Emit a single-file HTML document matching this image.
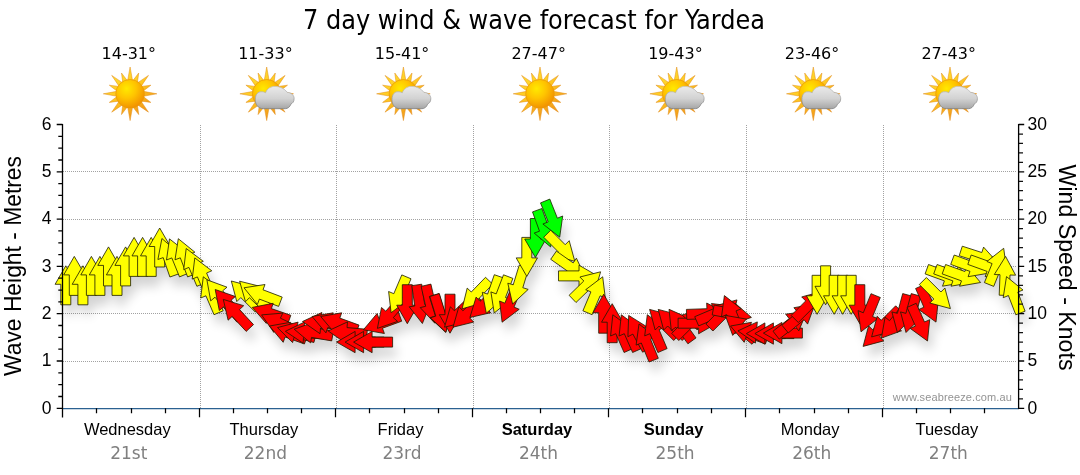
<!DOCTYPE html>
<html><head><meta charset="utf-8"><title>7 day wind &amp; wave forecast for Yardea</title>
<style>html,body{margin:0;padding:0;background:#fff}svg{display:block}.ar{font-family:"Liberation Sans",Arial,sans-serif}.th{font-family:"DejaVu Sans Condensed","DejaVu Sans","Liberation Sans",sans-serif}.vd{font-family:"DejaVu Sans","Liberation Sans",sans-serif}</style></head><body>
<svg width="1080" height="475" viewBox="0 0 1080 475">
<defs>
<radialGradient id="sunG" cx="0.38" cy="0.32" r="0.75"><stop offset="0" stop-color="#ffe900"/><stop offset="0.45" stop-color="#ffc400"/><stop offset="1" stop-color="#f08a00"/></radialGradient>
<linearGradient id="rayG" x1="0" y1="0" x2="0.6" y2="1"><stop offset="0" stop-color="#ffe838"/><stop offset="0.5" stop-color="#ffca22"/><stop offset="1" stop-color="#f09418"/></linearGradient>
<linearGradient id="cldG" x1="0" y1="0" x2="0" y2="1"><stop offset="0" stop-color="#eaeaea"/><stop offset="0.55" stop-color="#d2d2d2"/><stop offset="1" stop-color="#a6a6a6"/></linearGradient>
<linearGradient id="cldS" x1="0" y1="0" x2="0" y2="1"><stop offset="0" stop-color="#c4c4c4"/><stop offset="1" stop-color="#7e7e7e"/></linearGradient>
<filter id="sh" x="-5%" y="-20%" width="110%" height="150%"><feGaussianBlur stdDeviation="5.5"/></filter>
<filter id="cs" x="-20%" y="-20%" width="140%" height="150%"><feGaussianBlur stdDeviation="0.8"/></filter>

<g id="sun"><path d="M-2.46,-13.27 L0.00,-26.80 L2.46,-13.27 Z M2.81,-13.20 L8.61,-20.79 L7.35,-11.32 Z M7.65,-11.13 L18.38,-18.38 L11.13,-7.65 Z M11.32,-7.35 L20.79,-8.61 L13.20,-2.81 Z M13.27,-2.46 L26.80,-0.00 L13.27,2.46 Z M13.20,2.81 L20.79,8.61 L11.32,7.35 Z M11.13,7.65 L18.38,18.38 L7.65,11.13 Z M7.35,11.32 L8.61,20.79 L2.81,13.20 Z M2.46,13.27 L0.00,26.80 L-2.46,13.27 Z M-2.81,13.20 L-8.61,20.79 L-7.35,11.32 Z M-7.65,11.13 L-18.38,18.38 L-11.13,7.65 Z M-11.32,7.35 L-20.79,8.61 L-13.20,2.81 Z M-13.27,2.46 L-26.80,0.00 L-13.27,-2.46 Z M-13.20,-2.81 L-20.79,-8.61 L-11.32,-7.35 Z M-11.13,-7.65 L-18.38,-18.38 L-7.65,-11.13 Z M-7.35,-11.32 L-8.61,-20.79 L-2.81,-13.20 Z" fill="url(#rayG)" stroke="#e08a18" stroke-width="0.5"/><circle r="14.3" fill="url(#sunG)" stroke="#e8980c" stroke-width="0.7"/></g>
<g id="cloud"><path d="M-3.5,14.9 C-8.5,14.9 -11.6,10.5 -11.4,5.5 C-11.4,0.5 -8.5,-2.2 -5.5,-2.0 C-3.8,-2.2 -2.5,-1.8 -1.2,-1.0 C0.5,-5.5 4.5,-7.6 8.5,-7.4 C13.5,-7.4 18,-5 20.5,-1.5 C24.5,-1.2 27.6,1.5 27.4,5 C27.4,8 25.8,9.5 24.2,10.2 C23.5,13 21,14.9 18.6,14.9 Z" fill="url(#cldG)" stroke="url(#cldS)" stroke-width="0.8"/></g>
</defs>
<rect width="1080" height="475" fill="#fff"/>
<text class="th" x="534" y="28.8" font-size="26.5" text-anchor="middle" fill="#000" textLength="462" lengthAdjust="spacingAndGlyphs">7 day wind &amp; wave forecast for Yardea</text>
<text class="vd" x="128.8" y="59" font-size="16.5" text-anchor="middle" fill="#000" textLength="54.5" lengthAdjust="spacingAndGlyphs">14-31°</text>
<use href="#sun" x="130.1" y="93.8"/>
<text class="vd" x="265.4" y="59" font-size="16.5" text-anchor="middle" fill="#000" textLength="54.5" lengthAdjust="spacingAndGlyphs">11-33°</text>
<use href="#sun" x="266.7" y="93.8"/>
<use href="#cloud" x="266.7" y="93.8"/>
<text class="vd" x="402.1" y="59" font-size="16.5" text-anchor="middle" fill="#000" textLength="54.5" lengthAdjust="spacingAndGlyphs">15-41°</text>
<use href="#sun" x="403.4" y="93.8"/>
<use href="#cloud" x="403.4" y="93.8"/>
<text class="vd" x="538.7" y="59" font-size="16.5" text-anchor="middle" fill="#000" textLength="54.5" lengthAdjust="spacingAndGlyphs">27-47°</text>
<use href="#sun" x="540.0" y="93.8"/>
<text class="vd" x="675.4" y="59" font-size="16.5" text-anchor="middle" fill="#000" textLength="54.5" lengthAdjust="spacingAndGlyphs">19-43°</text>
<use href="#sun" x="676.7" y="93.8"/>
<use href="#cloud" x="676.7" y="93.8"/>
<text class="vd" x="812.0" y="59" font-size="16.5" text-anchor="middle" fill="#000" textLength="54.5" lengthAdjust="spacingAndGlyphs">23-46°</text>
<use href="#sun" x="813.3" y="93.8"/>
<use href="#cloud" x="813.3" y="93.8"/>
<text class="vd" x="948.7" y="59" font-size="16.5" text-anchor="middle" fill="#000" textLength="54.5" lengthAdjust="spacingAndGlyphs">27-43°</text>
<use href="#sun" x="950.0" y="93.8"/>
<use href="#cloud" x="950.0" y="93.8"/>
<path d="M200.5,125.0 V408.0 M336.5,125.0 V408.0 M473.5,125.0 V408.0 M609.5,125.0 V408.0 M746.5,125.0 V408.0 M883.5,125.0 V408.0 M63.0,361.5 H1017.0 M63.0,313.5 H1017.0 M63.0,266.5 H1017.0 M63.0,219.5 H1017.0 M63.0,171.5 H1017.0" stroke="#a2a2a2" stroke-width="1" stroke-dasharray="1,1" fill="none" shape-rendering="crispEdges"/>
<text class="ar" x="1012" y="401" font-size="11" text-anchor="end" fill="#939393" letter-spacing="0.12">www.seabreeze.com.au</text>
<g filter="url(#sh)" fill="#000" opacity="0.17"><polygon points="69.8,275.8 80.5,294.3 74.8,294.3 74.8,314.8 64.8,314.8 64.8,294.3 59.1,294.3"/><polygon points="78.3,266.4 89.0,284.9 83.3,284.9 83.3,305.4 73.3,305.4 73.3,284.9 67.7,284.9"/><polygon points="86.9,275.8 97.5,294.3 91.9,294.3 91.9,314.8 81.9,314.8 81.9,294.3 76.2,294.3"/><polygon points="95.4,266.4 106.1,284.9 100.4,284.9 100.4,305.4 90.4,305.4 90.4,284.9 84.8,284.9"/><polygon points="103.9,266.4 114.6,284.9 108.9,284.9 108.9,305.4 98.9,305.4 98.9,284.9 93.3,284.9"/><polygon points="112.5,256.9 123.1,275.4 117.5,275.4 117.5,295.9 107.5,295.9 107.5,275.4 101.8,275.4"/><polygon points="121.0,266.4 131.7,284.9 126.0,284.9 126.0,305.4 116.0,305.4 116.0,284.9 110.4,284.9"/><polygon points="129.6,256.9 140.2,275.4 134.6,275.4 134.6,295.9 124.6,295.9 124.6,275.4 118.9,275.4"/><polygon points="138.1,247.4 148.8,265.9 143.1,265.9 143.1,286.4 133.1,286.4 133.1,265.9 127.4,265.9"/><polygon points="146.6,247.4 157.3,265.9 151.6,265.9 151.6,286.4 141.6,286.4 141.6,265.9 136.0,265.9"/><polygon points="155.2,247.4 165.8,265.9 160.2,265.9 160.2,286.4 150.2,286.4 150.2,265.9 144.5,265.9"/><polygon points="163.7,238.0 174.4,256.5 168.7,256.5 168.7,277.0 158.7,277.0 158.7,256.5 153.1,256.5"/><polygon points="165.9,248.5 182.0,262.5 176.7,264.4 183.3,283.7 173.9,287.0 167.2,267.6 161.9,269.5"/><polygon points="173.5,248.9 190.3,262.0 185.0,264.1 192.7,283.1 183.5,286.9 175.8,267.9 170.5,270.0"/><polygon points="182.3,248.7 198.9,262.2 193.6,264.2 201.0,283.4 191.6,286.9 184.3,267.8 179.0,269.8"/><polygon points="190.2,258.5 207.3,271.3 202.1,273.5 210.1,292.4 200.9,296.3 192.9,277.4 187.7,279.6"/><polygon points="198.8,267.9 215.8,280.8 210.6,283.0 218.6,301.9 209.4,305.8 201.4,286.9 196.2,289.1"/><polygon points="207.3,286.8 224.4,299.7 219.1,301.9 227.2,320.8 218.0,324.7 209.9,305.8 204.7,308.0"/><polygon points="210.9,289.8 231.0,297.2 226.7,300.8 239.8,316.5 232.2,322.9 219.0,307.2 214.7,310.9"/><polygon points="219.2,299.5 239.4,306.5 235.1,310.2 248.6,325.7 241.0,332.2 227.6,316.8 223.3,320.5"/><polygon points="227.3,309.4 247.7,315.7 243.5,319.6 257.5,334.6 250.2,341.4 236.2,326.4 232.1,330.2"/><polygon points="235.3,291.0 255.9,296.5 251.9,300.5 266.4,315.0 259.3,322.1 244.8,307.6 240.8,311.6"/><polygon points="243.6,291.2 264.3,296.4 260.4,300.5 275.1,314.7 268.2,321.9 253.4,307.7 249.5,311.7"/><polygon points="248.0,297.8 269.0,294.5 267.0,299.8 286.2,307.1 282.6,316.4 263.4,309.1 261.4,314.4"/><polygon points="256.3,317.4 277.2,313.3 275.4,318.6 294.8,325.3 291.5,334.8 272.1,328.1 270.3,333.4"/><polygon points="265.6,324.9 286.8,323.1 284.4,328.2 303.0,336.9 298.8,345.9 280.2,337.3 277.8,342.4"/><polygon points="273.5,336.0 294.5,332.3 292.5,337.6 311.8,344.6 308.4,354.0 289.1,347.0 287.2,352.3"/><polygon points="281.5,337.6 302.1,332.1 300.6,337.5 320.4,342.8 317.9,352.5 298.1,347.2 296.6,352.6"/><polygon points="289.4,341.3 308.6,331.9 308.2,337.6 328.7,339.0 328.0,349.0 307.5,347.5 307.1,353.2"/><polygon points="298.2,339.2 318.3,332.0 317.3,337.5 337.5,341.1 335.7,350.9 315.5,347.4 314.6,352.9"/><polygon points="306.5,331.5 325.9,322.5 325.4,328.1 345.8,329.9 344.9,339.8 324.5,338.1 324.0,343.7"/><polygon points="316.1,326.5 337.2,322.8 335.2,328.1 354.5,335.1 351.1,344.5 331.8,337.5 329.9,342.8"/><polygon points="324.7,326.5 345.7,322.8 343.8,328.1 363.0,335.1 359.6,344.5 340.4,337.5 338.4,342.8"/><polygon points="332.1,340.9 351.5,331.9 351.0,337.6 371.4,339.3 370.5,349.3 350.1,347.5 349.6,353.1"/><polygon points="340.6,352.1 359.1,341.4 359.1,347.1 379.6,347.1 379.6,357.1 359.1,357.1 359.1,362.7"/><polygon points="349.1,352.1 367.6,341.4 367.6,347.1 388.1,347.1 388.1,357.1 367.6,357.1 367.6,362.7"/><polygon points="357.6,352.1 376.1,341.4 376.1,347.1 396.6,347.1 396.6,357.1 376.1,357.1 376.1,362.7"/><polygon points="367.4,339.8 381.1,323.5 383.0,328.8 402.3,321.8 405.7,331.2 386.5,338.2 388.4,343.5"/><polygon points="381.4,338.4 385.5,317.5 389.8,321.2 403.2,305.7 410.8,312.3 397.3,327.7 401.6,331.4"/><polygon points="395.1,322.7 392.6,301.5 397.8,303.7 405.8,284.9 415.0,288.8 407.0,307.7 412.2,309.9"/><polygon points="411.3,333.7 400.7,315.2 406.3,315.2 406.3,294.7 416.3,294.7 416.3,315.2 421.9,315.2"/><polygon points="426.4,333.5 413.2,316.8 418.8,316.0 415.8,295.7 425.7,294.2 428.7,314.5 434.3,313.7"/><polygon points="438.8,333.2 424.2,317.6 429.7,316.3 425.1,296.4 434.9,294.1 439.5,314.1 445.0,312.8"/><polygon points="449.6,342.3 434.0,327.8 439.4,326.1 433.4,306.5 443.0,303.6 449.0,323.2 454.4,321.5"/><polygon points="450.0,342.3 434.4,327.8 439.8,326.1 433.8,306.5 443.3,303.6 449.3,323.2 454.7,321.5"/><polygon points="454.0,343.2 443.3,324.7 449.0,324.7 449.0,304.2 459.0,304.2 459.0,324.7 464.6,324.7"/><polygon points="448.5,337.2 454.4,316.7 458.3,320.8 473.1,306.6 480.0,313.8 465.3,328.0 469.2,332.1"/><polygon points="457.0,337.2 462.9,316.7 466.9,320.8 481.6,306.6 488.6,313.8 473.8,328.0 477.7,332.1"/><polygon points="466.1,318.8 471.2,298.1 475.3,302.0 489.5,287.3 496.7,294.2 482.5,309.0 486.6,312.9"/><polygon points="473.9,327.5 480.1,307.1 484.0,311.3 499.0,297.3 505.8,304.6 490.8,318.6 494.7,322.7"/><polygon points="490.3,323.2 486.3,302.3 491.6,304.1 498.3,284.7 507.8,288.0 501.1,307.4 506.4,309.2"/><polygon points="498.2,323.0 494.9,301.9 500.2,303.9 507.5,284.8 516.9,288.4 509.5,307.5 514.8,309.5"/><polygon points="506.1,332.2 503.6,311.0 508.8,313.2 516.8,294.3 526.0,298.2 518.0,317.1 523.2,319.3"/><polygon points="516.6,314.0 511.8,293.2 517.2,294.8 523.2,275.2 532.8,278.1 526.8,297.7 532.2,299.4"/><polygon points="530.8,286.4 520.2,267.9 525.8,267.9 525.8,247.4 535.8,247.4 535.8,267.9 541.5,267.9"/><polygon points="539.4,267.5 528.7,249.0 534.4,249.0 534.4,228.5 544.4,228.5 544.4,249.0 550.0,249.0"/><polygon points="554.6,256.9 538.2,243.1 543.5,241.2 536.5,221.9 545.9,218.5 552.9,237.8 558.2,235.9"/><polygon points="563.7,247.2 546.9,234.0 552.2,231.9 544.5,212.9 553.8,209.1 561.4,228.2 566.7,226.0"/><polygon points="578.8,271.3 558.2,265.7 562.1,261.7 547.7,247.2 554.7,240.2 569.2,254.7 573.2,250.7"/><polygon points="589.5,287.6 568.2,285.7 571.5,281.1 554.7,269.3 560.4,261.1 577.2,272.9 580.4,268.2"/><polygon points="601.5,285.9 583.0,296.5 583.0,290.9 562.5,290.9 562.5,280.9 583.0,280.9 583.0,275.2"/><polygon points="604.6,281.8 598.7,302.3 594.8,298.2 580.0,312.5 573.1,305.3 587.8,291.0 583.9,287.0"/><polygon points="606.7,286.8 609.3,308.0 604.1,305.8 596.1,324.7 586.9,320.8 594.9,301.9 589.7,299.7"/><polygon points="607.7,304.2 618.3,322.7 612.7,322.7 612.7,343.2 602.7,343.2 602.7,322.7 597.0,322.7"/><polygon points="616.2,313.7 626.8,332.2 621.2,332.2 621.2,352.7 611.2,352.7 611.2,332.2 605.5,332.2"/><polygon points="616.8,324.8 634.1,337.4 628.9,339.7 637.2,358.4 628.1,362.5 619.8,343.7 614.6,346.0"/><polygon points="625.3,324.8 642.6,337.4 637.4,339.7 645.8,358.4 636.6,362.5 628.3,343.7 623.1,346.0"/><polygon points="632.7,325.4 650.7,336.7 645.8,339.4 655.4,357.5 646.6,362.2 636.9,344.1 631.9,346.7"/><polygon points="643.0,334.0 659.8,347.2 654.6,349.3 662.3,368.3 653.0,372.0 645.3,353.0 640.1,355.1"/><polygon points="651.3,324.7 668.3,337.5 663.1,339.7 671.1,358.6 661.9,362.5 653.9,343.7 648.7,345.9"/><polygon points="653.6,319.4 674.2,324.9 670.3,328.9 684.7,343.4 677.7,350.5 663.2,336.0 659.2,340.0"/><polygon points="662.2,319.4 682.8,324.9 678.8,328.9 693.3,343.4 686.2,350.5 671.7,336.0 667.7,340.0"/><polygon points="673.0,319.3 692.5,328.0 688.0,331.3 700.0,347.9 691.9,353.8 679.9,337.2 675.3,340.5"/><polygon points="706.8,319.4 701.3,340.0 697.3,336.0 682.8,350.5 675.7,343.4 690.2,328.9 686.2,324.9"/><polygon points="721.1,333.2 702.6,343.8 702.6,338.2 682.1,338.2 682.1,328.2 702.6,328.2 702.6,322.5"/><polygon points="729.6,323.0 711.5,334.3 711.3,328.7 690.8,329.4 690.4,319.4 710.9,318.7 710.7,313.0"/><polygon points="736.6,316.1 723.7,333.1 721.5,327.9 702.7,335.9 698.7,326.7 717.6,318.7 715.4,313.5"/><polygon points="741.0,309.9 735.4,330.5 731.4,326.5 716.9,341.0 709.9,334.0 724.4,319.5 720.4,315.5"/><polygon points="755.4,327.4 735.2,334.3 736.3,328.8 716.2,324.9 718.1,315.1 738.2,319.0 739.3,313.4"/><polygon points="728.4,305.6 745.2,318.8 740.0,320.9 747.7,339.9 738.4,343.7 730.7,324.6 725.5,326.8"/><polygon points="729.3,325.4 750.3,329.1 746.7,333.4 762.4,346.6 756.0,354.3 740.3,341.1 736.7,345.4"/><polygon points="734.5,336.0 755.5,332.3 753.6,337.6 772.8,344.6 769.4,354.0 750.2,347.0 748.2,352.3"/><polygon points="741.9,340.9 761.3,331.9 760.8,337.6 781.2,339.3 780.3,349.3 759.9,347.5 759.4,353.1"/><polygon points="750.4,343.6 768.9,332.9 768.9,338.6 789.4,338.6 789.4,348.6 768.9,348.6 768.9,354.2"/><polygon points="758.9,343.6 777.4,332.9 777.4,338.6 797.9,338.6 797.9,348.6 777.4,348.6 777.4,354.2"/><polygon points="767.4,343.1 785.9,332.4 785.9,338.1 806.4,338.1 806.4,348.1 785.9,348.1 785.9,353.7"/><polygon points="810.9,321.2 802.8,340.9 799.4,336.5 783.2,349.1 777.0,341.2 793.2,328.6 789.7,324.2"/><polygon points="819.0,314.0 811.6,334.1 808.0,329.7 792.3,342.9 785.9,335.2 801.6,322.1 797.9,317.7"/><polygon points="826.4,301.4 820.8,322.0 816.8,318.0 802.3,332.5 795.2,325.4 809.7,310.9 805.7,306.9"/><polygon points="821.1,324.3 810.4,305.8 816.1,305.8 816.1,285.3 826.1,285.3 826.1,305.8 831.7,305.8"/><polygon points="829.6,314.8 819.0,296.3 824.6,296.3 824.6,275.8 834.6,275.8 834.6,296.3 840.3,296.3"/><polygon points="838.2,324.3 827.5,305.8 833.2,305.8 833.2,285.3 843.2,285.3 843.2,305.8 848.8,305.8"/><polygon points="846.7,324.3 836.1,305.8 841.7,305.8 841.7,285.3 851.7,285.3 851.7,305.8 857.4,305.8"/><polygon points="855.2,324.3 844.6,305.8 850.2,305.8 850.2,285.3 860.2,285.3 860.2,305.8 865.9,305.8"/><polygon points="863.8,333.7 853.1,315.2 858.8,315.2 858.8,294.7 868.8,294.7 868.8,315.2 874.4,315.2"/><polygon points="865.0,341.8 862.1,320.6 867.3,322.8 875.0,303.7 884.3,307.5 876.6,326.5 881.8,328.6"/><polygon points="867.1,356.4 872.6,335.8 876.6,339.8 891.1,325.3 898.2,332.4 883.7,346.9 887.7,350.9"/><polygon points="875.6,346.9 881.2,326.3 885.2,330.3 899.7,315.8 906.7,322.9 892.2,337.4 896.2,341.4"/><polygon points="885.4,348.1 889.1,327.1 893.5,330.7 906.6,315.0 914.3,321.4 901.1,337.1 905.5,340.8"/><polygon points="901.4,342.5 895.9,321.9 901.4,323.4 906.7,303.6 916.4,306.2 911.0,326.0 916.5,327.4"/><polygon points="910.0,342.5 904.5,321.9 909.9,323.4 915.2,303.6 924.9,306.2 919.6,326.0 925.0,327.4"/><polygon points="931.5,351.0 914.2,338.4 919.4,336.1 911.1,317.4 920.2,313.3 928.5,332.0 933.7,329.7"/><polygon points="940.0,332.1 922.8,319.5 927.9,317.2 919.6,298.5 928.7,294.4 937.1,313.1 942.2,310.8"/><polygon points="954.4,318.6 933.8,313.0 937.8,309.0 923.3,294.5 930.4,287.5 944.9,302.0 948.9,298.0"/><polygon points="967.5,292.5 946.5,296.2 948.4,290.9 929.1,283.9 932.5,274.5 951.8,281.5 953.7,276.2"/><polygon points="976.0,292.5 955.0,296.2 956.9,290.9 937.7,283.9 941.1,274.5 960.3,281.5 962.3,276.2"/><polygon points="984.6,292.5 963.5,296.2 965.5,290.9 946.2,283.9 949.6,274.5 968.9,281.5 970.8,276.2"/><polygon points="993.1,283.1 972.1,286.7 974.0,281.4 954.7,274.4 958.2,265.0 977.4,272.0 979.4,266.7"/><polygon points="1001.9,273.0 981.0,277.4 982.7,272.0 963.2,265.7 966.3,256.2 985.8,262.5 987.6,257.1"/><polygon points="1010.2,283.1 989.1,286.7 991.1,281.4 971.8,274.4 975.2,265.0 994.5,272.0 996.4,266.7"/><polygon points="1007.7,258.3 1010.6,279.5 1005.4,277.3 997.7,296.4 988.4,292.6 996.1,273.6 990.9,271.5"/><polygon points="1009.6,266.4 1019.6,285.2 1014.0,285.0 1013.2,305.5 1003.2,305.2 1004.0,284.7 998.3,284.5"/><polygon points="1010.5,286.6 1027.0,300.0 1021.8,302.1 1029.1,321.2 1019.8,324.8 1012.4,305.6 1007.2,307.7"/></g>
<g stroke="#1a1a00" stroke-width="0.8" stroke-linejoin="miter"><polygon points="65.8,265.8 76.5,284.3 70.8,284.3 70.8,304.8 60.8,304.8 60.8,284.3 55.1,284.3" fill="#ffff00"/><polygon points="74.3,256.4 85.0,274.9 79.3,274.9 79.3,295.4 69.3,295.4 69.3,274.9 63.7,274.9" fill="#ffff00"/><polygon points="82.9,265.8 93.5,284.3 87.9,284.3 87.9,304.8 77.9,304.8 77.9,284.3 72.2,284.3" fill="#ffff00"/><polygon points="91.4,256.4 102.1,274.9 96.4,274.9 96.4,295.4 86.4,295.4 86.4,274.9 80.8,274.9" fill="#ffff00"/><polygon points="99.9,256.4 110.6,274.9 104.9,274.9 104.9,295.4 94.9,295.4 94.9,274.9 89.3,274.9" fill="#ffff00"/><polygon points="108.5,246.9 119.1,265.4 113.5,265.4 113.5,285.9 103.5,285.9 103.5,265.4 97.8,265.4" fill="#ffff00"/><polygon points="117.0,256.4 127.7,274.9 122.0,274.9 122.0,295.4 112.0,295.4 112.0,274.9 106.4,274.9" fill="#ffff00"/><polygon points="125.6,246.9 136.2,265.4 130.6,265.4 130.6,285.9 120.6,285.9 120.6,265.4 114.9,265.4" fill="#ffff00"/><polygon points="134.1,237.4 144.8,255.9 139.1,255.9 139.1,276.4 129.1,276.4 129.1,255.9 123.4,255.9" fill="#ffff00"/><polygon points="142.6,237.4 153.3,255.9 147.6,255.9 147.6,276.4 137.6,276.4 137.6,255.9 132.0,255.9" fill="#ffff00"/><polygon points="151.2,237.4 161.8,255.9 156.2,255.9 156.2,276.4 146.2,276.4 146.2,255.9 140.5,255.9" fill="#ffff00"/><polygon points="159.7,228.0 170.4,246.5 164.7,246.5 164.7,267.0 154.7,267.0 154.7,246.5 149.1,246.5" fill="#ffff00"/><polygon points="161.9,238.5 178.0,252.5 172.7,254.4 179.3,273.7 169.9,277.0 163.2,257.6 157.9,259.5" fill="#ffff00"/><polygon points="169.5,238.9 186.3,252.0 181.0,254.1 188.7,273.1 179.5,276.9 171.8,257.9 166.5,260.0" fill="#ffff00"/><polygon points="178.3,238.7 194.9,252.2 189.6,254.2 197.0,273.4 187.6,276.9 180.3,257.8 175.0,259.8" fill="#ffff00"/><polygon points="186.2,248.5 203.3,261.3 198.1,263.5 206.1,282.4 196.9,286.3 188.9,267.4 183.7,269.6" fill="#ffff00"/><polygon points="194.8,257.9 211.8,270.8 206.6,273.0 214.6,291.9 205.4,295.8 197.4,276.9 192.2,279.1" fill="#ffff00"/><polygon points="203.3,276.8 220.4,289.7 215.1,291.9 223.2,310.8 214.0,314.7 205.9,295.8 200.7,298.0" fill="#ffff00"/><polygon points="206.9,279.8 227.0,287.2 222.7,290.8 235.8,306.5 228.2,312.9 215.0,297.2 210.7,300.9" fill="#ffff00"/><polygon points="215.2,289.5 235.4,296.5 231.1,300.2 244.6,315.7 237.0,322.2 223.6,306.8 219.3,310.5" fill="#ff0000"/><polygon points="223.3,299.4 243.7,305.7 239.5,309.6 253.5,324.6 246.2,331.4 232.2,316.4 228.1,320.2" fill="#ff0000"/><polygon points="231.3,281.0 251.9,286.5 247.9,290.5 262.4,305.0 255.3,312.1 240.8,297.6 236.8,301.6" fill="#ffff00"/><polygon points="239.6,281.2 260.3,286.4 256.4,290.5 271.1,304.7 264.2,311.9 249.4,297.7 245.5,301.7" fill="#ffff00"/><polygon points="244.0,287.8 265.0,284.5 263.0,289.8 282.2,297.1 278.6,306.4 259.4,299.1 257.4,304.4" fill="#ffff00"/><polygon points="252.3,307.4 273.2,303.3 271.4,308.6 290.8,315.3 287.5,324.8 268.1,318.1 266.3,323.4" fill="#ff0000"/><polygon points="261.6,314.9 282.8,313.1 280.4,318.2 299.0,326.9 294.8,335.9 276.2,327.3 273.8,332.4" fill="#ff0000"/><polygon points="269.5,326.0 290.5,322.3 288.5,327.6 307.8,334.6 304.4,344.0 285.1,337.0 283.2,342.3" fill="#ff0000"/><polygon points="277.5,327.6 298.1,322.1 296.6,327.5 316.4,332.8 313.9,342.5 294.1,337.2 292.6,342.6" fill="#ff0000"/><polygon points="285.4,331.3 304.6,321.9 304.2,327.6 324.7,329.0 324.0,339.0 303.5,337.5 303.1,343.2" fill="#ff0000"/><polygon points="294.2,329.2 314.3,322.0 313.3,327.5 333.5,331.1 331.7,340.9 311.5,337.4 310.6,342.9" fill="#ff0000"/><polygon points="302.5,321.5 321.9,312.5 321.4,318.1 341.8,319.9 340.9,329.8 320.5,328.1 320.0,333.7" fill="#ff0000"/><polygon points="312.1,316.5 333.2,312.8 331.2,318.1 350.5,325.1 347.1,334.5 327.8,327.5 325.9,332.8" fill="#ff0000"/><polygon points="320.7,316.5 341.7,312.8 339.8,318.1 359.0,325.1 355.6,334.5 336.4,327.5 334.4,332.8" fill="#ff0000"/><polygon points="328.1,330.9 347.5,321.9 347.0,327.6 367.4,329.3 366.5,339.3 346.1,337.5 345.6,343.1" fill="#ff0000"/><polygon points="336.6,342.1 355.1,331.4 355.1,337.1 375.6,337.1 375.6,347.1 355.1,347.1 355.1,352.7" fill="#ff0000"/><polygon points="345.1,342.1 363.6,331.4 363.6,337.1 384.1,337.1 384.1,347.1 363.6,347.1 363.6,352.7" fill="#ff0000"/><polygon points="353.6,342.1 372.1,331.4 372.1,337.1 392.6,337.1 392.6,347.1 372.1,347.1 372.1,352.7" fill="#ff0000"/><polygon points="363.4,329.8 377.1,313.5 379.0,318.8 398.3,311.8 401.7,321.2 382.5,328.2 384.4,333.5" fill="#ff0000"/><polygon points="377.4,328.4 381.5,307.5 385.8,311.2 399.2,295.7 406.8,302.3 393.3,317.7 397.6,321.4" fill="#ff0000"/><polygon points="391.1,312.7 388.6,291.5 393.8,293.7 401.8,274.9 411.0,278.8 403.0,297.7 408.2,299.9" fill="#ffff00"/><polygon points="407.3,323.7 396.7,305.2 402.3,305.2 402.3,284.7 412.3,284.7 412.3,305.2 417.9,305.2" fill="#ff0000"/><polygon points="422.4,323.5 409.2,306.8 414.8,306.0 411.8,285.7 421.7,284.2 424.7,304.5 430.3,303.7" fill="#ff0000"/><polygon points="434.8,323.2 420.2,307.6 425.7,306.3 421.1,286.4 430.9,284.1 435.5,304.1 441.0,302.8" fill="#ff0000"/><polygon points="445.6,332.3 430.0,317.8 435.4,316.1 429.4,296.5 439.0,293.6 445.0,313.2 450.4,311.5" fill="#ff0000"/><polygon points="446.0,332.3 430.4,317.8 435.8,316.1 429.8,296.5 439.3,293.6 445.3,313.2 450.7,311.5" fill="#ff0000"/><polygon points="450.0,333.2 439.3,314.7 445.0,314.7 445.0,294.2 455.0,294.2 455.0,314.7 460.6,314.7" fill="#ff0000"/><polygon points="444.5,327.2 450.4,306.7 454.3,310.8 469.1,296.6 476.0,303.8 461.3,318.0 465.2,322.1" fill="#ff0000"/><polygon points="453.0,327.2 458.9,306.7 462.9,310.8 477.6,296.6 484.6,303.8 469.8,318.0 473.7,322.1" fill="#ff0000"/><polygon points="462.1,308.8 467.2,288.1 471.3,292.0 485.5,277.3 492.7,284.2 478.5,299.0 482.6,302.9" fill="#ffff00"/><polygon points="469.9,317.5 476.1,297.1 480.0,301.3 495.0,287.3 501.8,294.6 486.8,308.6 490.7,312.7" fill="#ff0000"/><polygon points="486.3,313.2 482.3,292.3 487.6,294.1 494.3,274.7 503.8,278.0 497.1,297.4 502.4,299.2" fill="#ffff00"/><polygon points="494.2,313.0 490.9,291.9 496.2,293.9 503.5,274.8 512.9,278.4 505.5,297.5 510.8,299.5" fill="#ffff00"/><polygon points="502.1,322.2 499.6,301.0 504.8,303.2 512.8,284.3 522.0,288.2 514.0,307.1 519.2,309.3" fill="#ff0000"/><polygon points="512.6,304.0 507.8,283.2 513.2,284.8 519.2,265.2 528.8,268.1 522.8,287.7 528.2,289.4" fill="#ffff00"/><polygon points="526.8,276.4 516.2,257.9 521.8,257.9 521.8,237.4 531.8,237.4 531.8,257.9 537.5,257.9" fill="#ffff00"/><polygon points="535.4,257.5 524.7,239.0 530.4,239.0 530.4,218.5 540.4,218.5 540.4,239.0 546.0,239.0" fill="#00ff00"/><polygon points="550.6,246.9 534.2,233.1 539.5,231.2 532.5,211.9 541.9,208.5 548.9,227.8 554.2,225.9" fill="#00ff00"/><polygon points="559.7,237.2 542.9,224.0 548.2,221.9 540.5,202.9 549.8,199.1 557.4,218.2 562.7,216.0" fill="#00ff00"/><polygon points="574.8,261.3 554.2,255.7 558.1,251.7 543.7,237.2 550.7,230.2 565.2,244.7 569.2,240.7" fill="#ffff00"/><polygon points="585.5,277.6 564.2,275.7 567.5,271.1 550.7,259.3 556.4,251.1 573.2,262.9 576.4,258.2" fill="#ffff00"/><polygon points="597.5,275.9 579.0,286.5 579.0,280.9 558.5,280.9 558.5,270.9 579.0,270.9 579.0,265.2" fill="#ffff00"/><polygon points="600.6,271.8 594.7,292.3 590.8,288.2 576.0,302.5 569.1,295.3 583.8,281.0 579.9,277.0" fill="#ffff00"/><polygon points="602.7,276.8 605.3,298.0 600.1,295.8 592.1,314.7 582.9,310.8 590.9,291.9 585.7,289.7" fill="#ffff00"/><polygon points="603.7,294.2 614.3,312.7 608.7,312.7 608.7,333.2 598.7,333.2 598.7,312.7 593.0,312.7" fill="#ff0000"/><polygon points="612.2,303.7 622.8,322.2 617.2,322.2 617.2,342.7 607.2,342.7 607.2,322.2 601.5,322.2" fill="#ff0000"/><polygon points="612.8,314.8 630.1,327.4 624.9,329.7 633.2,348.4 624.1,352.5 615.8,333.7 610.6,336.0" fill="#ff0000"/><polygon points="621.3,314.8 638.6,327.4 633.4,329.7 641.8,348.4 632.6,352.5 624.3,333.7 619.1,336.0" fill="#ff0000"/><polygon points="628.7,315.4 646.7,326.7 641.8,329.4 651.4,347.5 642.6,352.2 632.9,334.1 627.9,336.7" fill="#ff0000"/><polygon points="639.0,324.0 655.8,337.2 650.6,339.3 658.3,358.3 649.0,362.0 641.3,343.0 636.1,345.1" fill="#ff0000"/><polygon points="647.3,314.7 664.3,327.5 659.1,329.7 667.1,348.6 657.9,352.5 649.9,333.7 644.7,335.9" fill="#ff0000"/><polygon points="649.6,309.4 670.2,314.9 666.3,318.9 680.7,333.4 673.7,340.5 659.2,326.0 655.2,330.0" fill="#ff0000"/><polygon points="658.2,309.4 678.8,314.9 674.8,318.9 689.3,333.4 682.2,340.5 667.7,326.0 663.7,330.0" fill="#ff0000"/><polygon points="669.0,309.3 688.5,318.0 684.0,321.3 696.0,337.9 687.9,343.8 675.9,327.2 671.3,330.5" fill="#ff0000"/><polygon points="702.8,309.4 697.3,330.0 693.3,326.0 678.8,340.5 671.7,333.4 686.2,318.9 682.2,314.9" fill="#ff0000"/><polygon points="717.1,323.2 698.6,333.8 698.6,328.2 678.1,328.2 678.1,318.2 698.6,318.2 698.6,312.5" fill="#ff0000"/><polygon points="725.6,313.0 707.5,324.3 707.3,318.7 686.8,319.4 686.4,309.4 706.9,308.7 706.7,303.0" fill="#ff0000"/><polygon points="732.6,306.1 719.7,323.1 717.5,317.9 698.7,325.9 694.7,316.7 713.6,308.7 711.4,303.5" fill="#ff0000"/><polygon points="737.0,299.9 731.4,320.5 727.4,316.5 712.9,331.0 705.9,324.0 720.4,309.5 716.4,305.5" fill="#ff0000"/><polygon points="751.4,317.4 731.2,324.3 732.3,318.8 712.2,314.9 714.1,305.1 734.2,309.0 735.3,303.4" fill="#ff0000"/><polygon points="724.4,295.6 741.2,308.8 736.0,310.9 743.7,329.9 734.4,333.7 726.7,314.6 721.5,316.8" fill="#ff0000"/><polygon points="725.3,315.4 746.3,319.1 742.7,323.4 758.4,336.6 752.0,344.3 736.3,331.1 732.7,335.4" fill="#ff0000"/><polygon points="730.5,326.0 751.5,322.3 749.6,327.6 768.8,334.6 765.4,344.0 746.2,337.0 744.2,342.3" fill="#ff0000"/><polygon points="737.9,330.9 757.3,321.9 756.8,327.6 777.2,329.3 776.3,339.3 755.9,337.5 755.4,343.1" fill="#ff0000"/><polygon points="746.4,333.6 764.9,322.9 764.9,328.6 785.4,328.6 785.4,338.6 764.9,338.6 764.9,344.2" fill="#ff0000"/><polygon points="754.9,333.6 773.4,322.9 773.4,328.6 793.9,328.6 793.9,338.6 773.4,338.6 773.4,344.2" fill="#ff0000"/><polygon points="763.4,333.1 781.9,322.4 781.9,328.1 802.4,328.1 802.4,338.1 781.9,338.1 781.9,343.7" fill="#ff0000"/><polygon points="806.9,311.2 798.8,330.9 795.4,326.5 779.2,339.1 773.0,331.2 789.2,318.6 785.7,314.2" fill="#ff0000"/><polygon points="815.0,304.0 807.6,324.1 804.0,319.7 788.3,332.9 781.9,325.2 797.6,312.1 793.9,307.7" fill="#ff0000"/><polygon points="822.4,291.4 816.8,312.0 812.8,308.0 798.3,322.5 791.2,315.4 805.7,300.9 801.7,296.9" fill="#ff0000"/><polygon points="817.1,314.3 806.4,295.8 812.1,295.8 812.1,275.3 822.1,275.3 822.1,295.8 827.7,295.8" fill="#ffff00"/><polygon points="825.6,304.8 815.0,286.3 820.6,286.3 820.6,265.8 830.6,265.8 830.6,286.3 836.3,286.3" fill="#ffff00"/><polygon points="834.2,314.3 823.5,295.8 829.2,295.8 829.2,275.3 839.2,275.3 839.2,295.8 844.8,295.8" fill="#ffff00"/><polygon points="842.7,314.3 832.1,295.8 837.7,295.8 837.7,275.3 847.7,275.3 847.7,295.8 853.4,295.8" fill="#ffff00"/><polygon points="851.2,314.3 840.6,295.8 846.2,295.8 846.2,275.3 856.2,275.3 856.2,295.8 861.9,295.8" fill="#ffff00"/><polygon points="859.8,323.7 849.1,305.2 854.8,305.2 854.8,284.7 864.8,284.7 864.8,305.2 870.4,305.2" fill="#ff0000"/><polygon points="861.0,331.8 858.1,310.6 863.3,312.8 871.0,293.7 880.3,297.5 872.6,316.5 877.8,318.6" fill="#ff0000"/><polygon points="863.1,346.4 868.6,325.8 872.6,329.8 887.1,315.3 894.2,322.4 879.7,336.9 883.7,340.9" fill="#ff0000"/><polygon points="871.6,336.9 877.2,316.3 881.2,320.3 895.7,305.8 902.7,312.9 888.2,327.4 892.2,331.4" fill="#ff0000"/><polygon points="881.4,338.1 885.1,317.1 889.5,320.7 902.6,305.0 910.3,311.4 897.1,327.1 901.5,330.8" fill="#ff0000"/><polygon points="897.4,332.5 891.9,311.9 897.4,313.4 902.7,293.6 912.4,296.2 907.0,316.0 912.5,317.4" fill="#ff0000"/><polygon points="906.0,332.5 900.5,311.9 905.9,313.4 911.2,293.6 920.9,296.2 915.6,316.0 921.0,317.4" fill="#ff0000"/><polygon points="927.5,341.0 910.2,328.4 915.4,326.1 907.1,307.4 916.2,303.3 924.5,322.0 929.7,319.7" fill="#ff0000"/><polygon points="936.0,322.1 918.8,309.5 923.9,307.2 915.6,288.5 924.7,284.4 933.1,303.1 938.2,300.8" fill="#ff0000"/><polygon points="950.4,308.6 929.8,303.0 933.8,299.0 919.3,284.5 926.4,277.5 940.9,292.0 944.9,288.0" fill="#ffff00"/><polygon points="963.5,282.5 942.5,286.2 944.4,280.9 925.1,273.9 928.5,264.5 947.8,271.5 949.7,266.2" fill="#ffff00"/><polygon points="972.0,282.5 951.0,286.2 952.9,280.9 933.7,273.9 937.1,264.5 956.3,271.5 958.3,266.2" fill="#ffff00"/><polygon points="980.6,282.5 959.5,286.2 961.5,280.9 942.2,273.9 945.6,264.5 964.9,271.5 966.8,266.2" fill="#ffff00"/><polygon points="989.1,273.1 968.1,276.7 970.0,271.4 950.7,264.4 954.2,255.0 973.4,262.0 975.4,256.7" fill="#ffff00"/><polygon points="997.9,263.0 977.0,267.4 978.7,262.0 959.2,255.7 962.3,246.2 981.8,252.5 983.6,247.1" fill="#ffff00"/><polygon points="1006.2,273.1 985.1,276.7 987.1,271.4 967.8,264.4 971.2,255.0 990.5,262.0 992.4,256.7" fill="#ffff00"/><polygon points="1003.7,248.3 1006.6,269.5 1001.4,267.3 993.7,286.4 984.4,282.6 992.1,263.6 986.9,261.5" fill="#ffff00"/><polygon points="1005.6,256.4 1015.6,275.2 1010.0,275.0 1009.2,295.5 999.2,295.2 1000.0,274.7 994.3,274.5" fill="#ffff00"/><polygon points="1006.5,276.6 1023.0,290.0 1017.8,292.1 1025.1,311.2 1015.8,314.8 1008.4,295.6 1003.2,297.7" fill="#ffff00"/></g>
<path d="M62.0,408.6 H1019.1" stroke="#2b6191" stroke-width="1.4" fill="none"/>
<path d="M56.7,408.3 H62.5 M58.3,396.5 H62.5 M58.3,384.7 H62.5 M58.3,372.8 H62.5 M56.7,361.0 H62.5 M58.3,349.2 H62.5 M58.3,337.4 H62.5 M58.3,325.5 H62.5 M56.7,313.7 H62.5 M58.3,301.9 H62.5 M58.3,290.1 H62.5 M58.3,278.2 H62.5 M56.7,266.4 H62.5 M58.3,254.6 H62.5 M58.3,242.8 H62.5 M58.3,230.9 H62.5 M56.7,219.1 H62.5 M58.3,207.3 H62.5 M58.3,195.4 H62.5 M58.3,183.6 H62.5 M56.7,171.8 H62.5 M58.3,160.0 H62.5 M58.3,148.1 H62.5 M58.3,136.3 H62.5 M56.7,124.5 H62.5" stroke="#000" stroke-width="1.3" fill="none"/>
<path d="M62.5,123.9 V417.6" stroke="#000" stroke-width="1.3" fill="none"/>
<path d="M1018.6,408.3 H1024.2 M1018.6,361.0 H1024.2 M1018.6,313.7 H1024.2 M1018.6,266.4 H1024.2 M1018.6,219.1 H1024.2 M1018.6,171.8 H1024.2 M1018.6,124.5 H1024.2" stroke="#000" stroke-width="1.3" fill="none"/>
<path d="M1018.6,398.8 H1023.0 M1018.6,389.4 H1023.0 M1018.6,379.9 H1023.0 M1018.6,370.5 H1023.0 M1018.6,351.5 H1023.0 M1018.6,342.1 H1023.0 M1018.6,332.6 H1023.0 M1018.6,323.2 H1023.0 M1018.6,304.2 H1023.0 M1018.6,294.8 H1023.0 M1018.6,285.3 H1023.0 M1018.6,275.9 H1023.0 M1018.6,256.9 H1023.0 M1018.6,247.5 H1023.0 M1018.6,238.0 H1023.0 M1018.6,228.6 H1023.0 M1018.6,209.6 H1023.0 M1018.6,200.2 H1023.0 M1018.6,190.7 H1023.0 M1018.6,181.3 H1023.0 M1018.6,162.3 H1023.0 M1018.6,152.9 H1023.0 M1018.6,143.4 H1023.0 M1018.6,134.0 H1023.0" stroke="#111" stroke-width="1.25" fill="none"/>
<path d="M1018.6,123.9 V409.1" stroke="#000" stroke-width="1.3" fill="none"/>
<path d="M96.5,408.3 V413.3 M131.5,408.3 V413.3 M165.5,408.3 V413.3 M199.5,408.3 V417.3 M233.5,408.3 V413.3 M267.5,408.3 V413.3 M301.5,408.3 V413.3 M335.5,408.3 V417.3 M369.5,408.3 V413.3 M404.5,408.3 V413.3 M438.5,408.3 V413.3 M472.5,408.3 V417.3 M506.5,408.3 V413.3 M540.5,408.3 V413.3 M574.5,408.3 V413.3 M608.5,408.3 V417.3 M642.5,408.3 V413.3 M677.5,408.3 V413.3 M711.5,408.3 V413.3 M745.5,408.3 V417.3 M779.5,408.3 V413.3 M814.5,408.3 V413.3 M848.5,408.3 V413.3 M882.5,408.3 V417.3 M916.5,408.3 V413.3 M950.5,408.3 V413.3 M984.5,408.3 V413.3" stroke="#000" stroke-width="1.25" fill="none"/>
<text class="ar" x="51.6" y="413.5" font-size="17.5" text-anchor="end" fill="#000">0</text>
<text class="ar" x="51.6" y="366.2" font-size="17.5" text-anchor="end" fill="#000">1</text>
<text class="ar" x="51.6" y="318.9" font-size="17.5" text-anchor="end" fill="#000">2</text>
<text class="ar" x="51.6" y="271.6" font-size="17.5" text-anchor="end" fill="#000">3</text>
<text class="ar" x="51.6" y="224.3" font-size="17.5" text-anchor="end" fill="#000">4</text>
<text class="ar" x="51.6" y="177.0" font-size="17.5" text-anchor="end" fill="#000">5</text>
<text class="ar" x="51.6" y="129.7" font-size="17.5" text-anchor="end" fill="#000">6</text>
<text class="ar" x="1027.6" y="413.5" font-size="17.5" text-anchor="start" fill="#000">0</text>
<text class="ar" x="1027.6" y="366.2" font-size="17.5" text-anchor="start" fill="#000">5</text>
<text class="ar" x="1027.6" y="318.9" font-size="17.5" text-anchor="start" fill="#000">10</text>
<text class="ar" x="1027.6" y="271.6" font-size="17.5" text-anchor="start" fill="#000">15</text>
<text class="ar" x="1027.6" y="224.3" font-size="17.5" text-anchor="start" fill="#000">20</text>
<text class="ar" x="1027.6" y="177.0" font-size="17.5" text-anchor="start" fill="#000">25</text>
<text class="ar" x="1027.6" y="129.7" font-size="17.5" text-anchor="start" fill="#000">30</text>
<text class="ar" transform="translate(20.6,266) rotate(-90)" font-size="23" text-anchor="middle" fill="#000" textLength="220" lengthAdjust="spacingAndGlyphs">Wave Height - Metres</text>
<text class="ar" transform="translate(1059.0,267.5) rotate(90)" font-size="23" text-anchor="middle" fill="#000" textLength="206" lengthAdjust="spacingAndGlyphs">Wind Speed - Knots</text>
<text class="ar" x="127.3" y="434.6" font-size="16.5" text-anchor="middle" fill="#000">Wednesday</text>
<text class="vd" x="128.8" y="458.7" font-size="17" text-anchor="middle" fill="#808080">21st</text>
<text class="ar" x="263.9" y="434.6" font-size="16.5" text-anchor="middle" fill="#000">Thursday</text>
<text class="vd" x="265.4" y="458.7" font-size="17" text-anchor="middle" fill="#808080">22nd</text>
<text class="ar" x="400.5" y="434.6" font-size="16.5" text-anchor="middle" fill="#000">Friday</text>
<text class="vd" x="402.0" y="458.7" font-size="17" text-anchor="middle" fill="#808080">23rd</text>
<text class="ar" x="537.0" y="434.6" font-size="16.5" text-anchor="middle" fill="#000" font-weight="bold">Saturday</text>
<text class="vd" x="538.5" y="458.7" font-size="17" text-anchor="middle" fill="#808080">24th</text>
<text class="ar" x="673.6" y="434.6" font-size="16.5" text-anchor="middle" fill="#000" font-weight="bold">Sunday</text>
<text class="vd" x="675.1" y="458.7" font-size="17" text-anchor="middle" fill="#808080">25th</text>
<text class="ar" x="810.2" y="434.6" font-size="16.5" text-anchor="middle" fill="#000">Monday</text>
<text class="vd" x="811.7" y="458.7" font-size="17" text-anchor="middle" fill="#808080">26th</text>
<text class="ar" x="946.8" y="434.6" font-size="16.5" text-anchor="middle" fill="#000">Tuesday</text>
<text class="vd" x="948.3" y="458.7" font-size="17" text-anchor="middle" fill="#808080">27th</text>
</svg></body></html>
